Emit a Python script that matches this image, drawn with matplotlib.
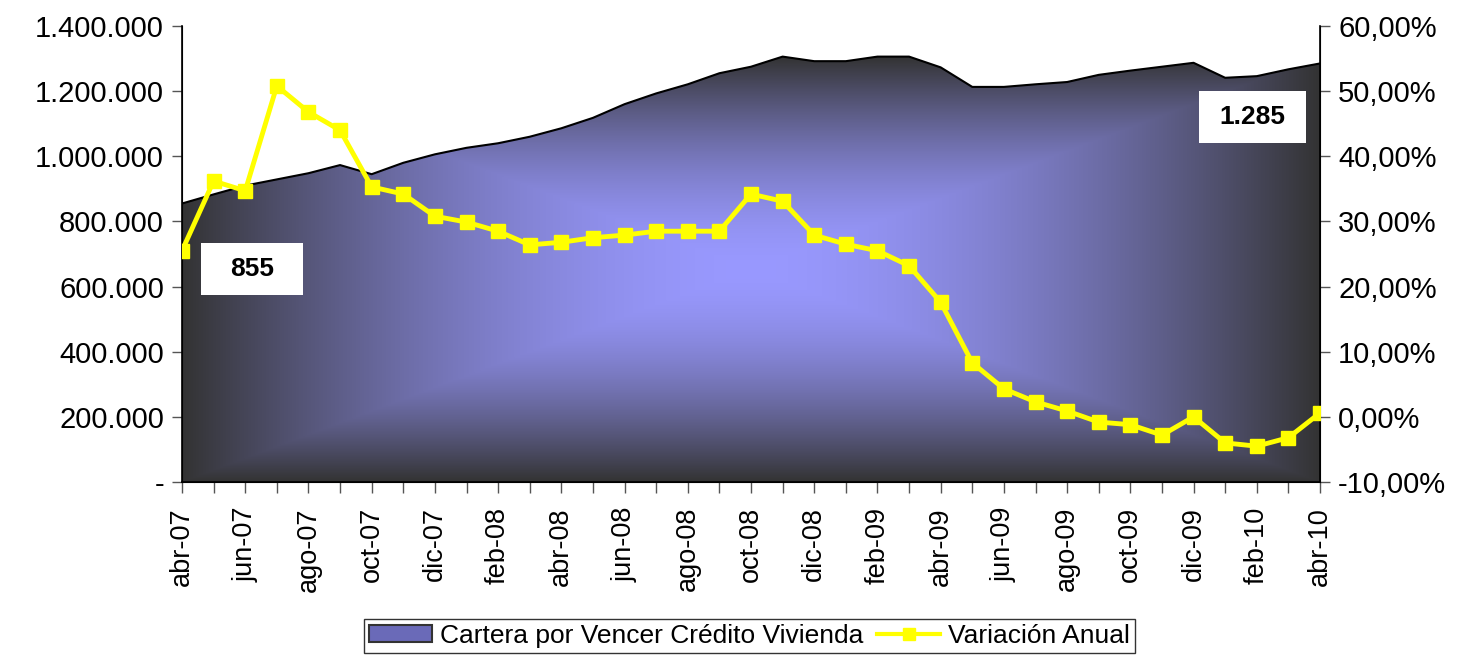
import matplotlib
matplotlib.use("Agg")
import matplotlib.pyplot as plt
import numpy as np
from matplotlib.ticker import FuncFormatter, MultipleLocator
from matplotlib.patches import Polygon, Patch, Rectangle
from matplotlib.lines import Line2D

plt.rcParams['font.family'] = ['Liberation Sans', 'DejaVu Sans']

# meses (abr-07 .. abr-10)
meses = ['abr-07', 'may-07', 'jun-07', 'jul-07', 'ago-07', 'sep-07', 'oct-07', 'nov-07',
         'dic-07', 'ene-08', 'feb-08', 'mar-08', 'abr-08', 'may-08', 'jun-08', 'jul-08',
         'ago-08', 'sep-08', 'oct-08', 'nov-08', 'dic-08', 'ene-09', 'feb-09', 'mar-09',
         'abr-09', 'may-09', 'jun-09', 'jul-09', 'ago-09', 'sep-09', 'oct-09', 'nov-09',
         'dic-09', 'ene-10', 'feb-10', 'mar-10', 'abr-10']

# cartera por vencer (eje izquierdo)
cartera = [855000, 883000, 910000, 929000, 948000, 973000, 945000, 980000, 1006000,
           1026000, 1040000, 1060000, 1086000, 1118000, 1160000, 1193000, 1221000,
           1255000, 1275000, 1306000, 1292000, 1292000, 1306000, 1306000, 1273000,
           1213000, 1213000, 1221000, 1228000, 1250000, 1263000, 1275000, 1287000,
           1241000, 1246000, 1267000, 1285000]

# variacion anual en % (eje derecho)
variacion = [25.5, 36.2, 34.7, 50.8, 46.8, 44.0, 35.3, 34.2, 30.8, 29.9, 28.5, 26.4,
             26.8, 27.5, 27.9, 28.5, 28.5, 28.5, 34.2, 33.1, 27.9, 26.5, 25.5, 23.2,
             17.6, 8.3, 4.3, 2.3, 0.9, -0.8, -1.2, -2.8, 0.0, -4.0, -4.5, -3.2, 0.6]

x = np.arange(len(meses))
y = np.array(cartera, dtype=float)

fig = plt.figure(figsize=(14.61, 6.56), dpi=100)
ax = fig.add_axes([182/1461, 1-482/656, 1138/1461, 456/656])
ax.set_xlim(0, len(meses)-1)
ax.set_ylim(0, 1400000)

# relleno con degradado rectangular desde el centro (como Excel)
claro = np.array([153, 153, 255]) / 255.0
oscuro = np.array([51, 51, 51]) / 255.0
cx = (len(meses)-1) / 2.0
cy = y.max() / 2.0
gx, gy = np.meshgrid(np.linspace(0, len(meses)-1, 800), np.linspace(0, 1400000, 500))
dx = np.abs(gx - cx) / cx
dy = np.abs(gy - cy) / cy
t = np.clip(np.maximum(dx, dy), 0, 1) ** 1.7
t = t[..., None]
img = claro * (1 - t) + oscuro * t
im = ax.imshow(img, extent=[0, len(meses)-1, 0, 1400000], origin='lower',
               aspect='auto', zorder=1, interpolation='bilinear')
verts = list(zip(x, y)) + [(x[-1], 0), (x[0], 0)]
poly = Polygon(verts, closed=True, facecolor='none', edgecolor='none')
ax.add_patch(poly)
im.set_clip_path(poly)
ax.plot(x, y, color='black', lw=1.5, zorder=2)

ax.yaxis.set_major_locator(MultipleLocator(200000))
ax.yaxis.set_major_formatter(FuncFormatter(
    lambda v, p: '-' if v == 0 else '{:,.0f}'.format(v).replace(',', '.')))
ax.set_xticks(x)
ax.set_xticklabels([m if i % 2 == 0 else '' for i, m in enumerate(meses)],
                   rotation=90, fontsize=19.5)
ax.tick_params(axis='x', length=8, width=1, color='#555555', pad=10)
ax.tick_params(axis='y', length=7, width=1, color='#555555', labelsize=21, pad=6)
ax.spines['top'].set_visible(False)
for s in ['left', 'right', 'bottom']:
    ax.spines[s].set_color('black')
    ax.spines[s].set_linewidth(1.2)

ax2 = ax.twinx()
ax2.set_ylim(-10, 60)
ax2.yaxis.set_major_locator(MultipleLocator(10))
ax2.yaxis.set_major_formatter(FuncFormatter(lambda v, p: '{:.2f}%'.format(v).replace('.', ',')))
ax2.tick_params(axis='y', length=7, width=1, color='#555555', labelsize=21, pad=6)
ax2.spines['top'].set_visible(False)
ax2.plot(x, variacion, color='#FFFF00', lw=3.5, marker='s', markersize=10,
         markeredgecolor='#FFFF00', zorder=5)

# etiquetas primer y ultimo valor
def miles(v):
    return '{:,.0f}'.format(v / 1000).replace(',', '.')

ax2.add_patch(Rectangle((0.0167, 0.41), 0.0895, 0.115, transform=ax2.transAxes,
                        facecolor='white', edgecolor='none', zorder=6))
ax2.text(0.0614, 0.4675, miles(cartera[0]), transform=ax2.transAxes, ha='center',
         va='center', fontsize=19, fontweight='bold', zorder=7)
ax2.add_patch(Rectangle((0.8937, 0.744), 0.0937, 0.1135, transform=ax2.transAxes,
                        facecolor='white', edgecolor='none', zorder=6))
ax2.text(0.9405, 0.8005, miles(cartera[-1]), transform=ax2.transAxes, ha='center',
         va='center', fontsize=19, fontweight='bold', zorder=7)

handles = [Patch(facecolor='#6a6ab8', edgecolor='#333333', lw=1.5),
           Line2D([], [], color='#FFFF00', lw=3, marker='s', markersize=9)]
leg = fig.legend(handles, ['Cartera por Vencer Crédito Vivienda', 'Variación Anual'],
                 loc='lower center', bbox_to_anchor=(0.513, -0.004), ncol=2,
                 fontsize=19, frameon=True, fancybox=False, borderpad=0.2,
                 handlelength=2.4, handleheight=0.6, handletextpad=0.3,
                 columnspacing=0.5, borderaxespad=0.2)
leg.get_frame().set_edgecolor('black')
leg.get_frame().set_linewidth(1.0)

fig.savefig('out.png', dpi=100)
